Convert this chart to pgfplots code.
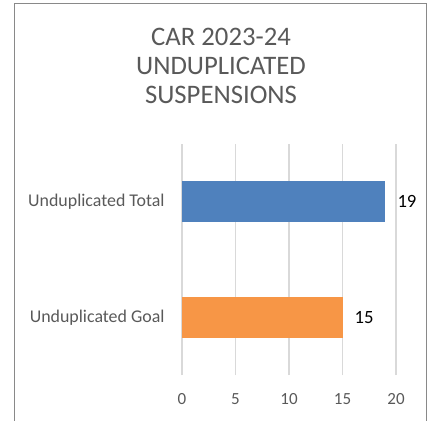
\documentclass[border=0pt]{standalone}
\usepackage{fontspec}
\setmainfont{Carlito}
\usepackage{pgfplots}
\pgfplotsset{compat=1.18}

\definecolor{barblue}{HTML}{4F81BD}
\definecolor{barorange}{HTML}{F79646}
\definecolor{txtgray}{HTML}{595959}
\definecolor{gridgray}{HTML}{D9D9D9}
\definecolor{framegray}{HTML}{898989}

\begin{document}
\begin{tikzpicture}
% chart frame (bottom edge is cut off in the reference)
\draw[framegray, line width=1.3pt] (14.5pt,-5pt) -- (14.5pt,416.5pt) -- (426.7pt,416.5pt) -- (426.7pt,-5pt);

% title
\node[anchor=base, text=txtgray, font=\fontsize{26.7}{29}\selectfont] at (221pt,374.5pt) {CAR 2023-24};
\node[anchor=base, text=txtgray, font=\fontsize{26.7}{29}\selectfont] at (221pt,345pt) {UNDUPLICATED};
\node[anchor=base, text=txtgray, font=\fontsize{26.7}{29}\selectfont] at (221pt,316pt) {SUSPENSIONS};

\begin{axis}[
  at={(182pt,45pt)}, anchor=south west,
  scale only axis, width=214pt, height=231pt,
  xbar, bar width=41pt, bar shift=0pt,
  xmin=0, xmax=20, ymin=-0.5, ymax=1.5,
  xtick={0,5,10,15,20},
  ytick={0,1},
  yticklabels={Unduplicated Goal, Unduplicated Total},
  axis line style={draw=none},
  tick style={draw=none},
  xmajorgrids, grid style={gridgray, line width=1.5pt},
  /pgf/number format/assume math mode=true,
  xticklabel style={font=\fontsize{17}{20}\selectfont, text=txtgray, anchor=north, inner sep=0pt, yshift=-18pt},
  yticklabel style={font=\fontsize{17.9}{20}\selectfont, text=txtgray, anchor=east, inner sep=0pt, xshift=-13pt},
  nodes near coords,
  nodes near coords style={font=\fontsize{18.7}{21}\selectfont, text=black, anchor=west, inner sep=0pt, xshift=12pt},
]
\addplot[fill=barblue, draw=none] coordinates {(19,1)};
\addplot[fill=barorange, draw=none] coordinates {(15,0)};
\end{axis}

\pgfresetboundingbox
\useasboundingbox (0,0) rectangle (435pt,420pt);
\end{tikzpicture}
\end{document}
